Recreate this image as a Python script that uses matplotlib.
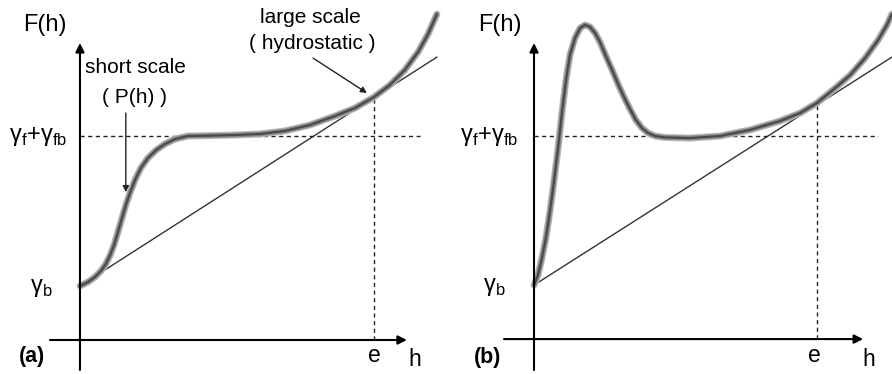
"""Schematic of the film free energy F(h) for two cases (a) and (b)."""

import matplotlib.pyplot as plt

plt.rcParams["font.family"] = ["Liberation Sans", "DejaVu Sans"]
plt.rcParams["mathtext.fontset"] = "custom"
plt.rcParams["mathtext.rm"] = "Liberation Sans"

# h in units of e, F in units of gamma_f + gamma_fb
GAMMA_B = 0.265
GAMMA_FFB = 1.0
E = 1.0

# panel (a): monotonic short-scale part
h_a = [0, 0.027, 0.051, 0.071, 0.088, 0.102, 0.116, 0.129, 0.143, 0.156,
       0.170, 0.187, 0.207, 0.231, 0.259, 0.289, 0.323, 0.367, 0.442, 0.527,
       0.612, 0.697, 0.782, 0.867, 0.935, 1.0, 1.054, 1.105, 1.150, 1.184, 1.214]
F_a = [0.265, 0.284, 0.309, 0.338, 0.373, 0.414, 0.466, 0.529, 0.598, 0.662,
       0.721, 0.784, 0.843, 0.892, 0.931, 0.961, 0.985, 1.0, 1.002, 1.005,
       1.010, 1.025, 1.054, 1.098, 1.137, 1.191, 1.250, 1.324, 1.412, 1.5, 1.598]
tangent_a_h = [0, 1.214]
tangent_a_F = [0.265, 1.387]

# panel (b): short-scale part with a maximum
h_b = [0, 0.014, 0.028, 0.042, 0.057, 0.071, 0.085, 0.099, 0.113, 0.127,
       0.145, 0.163, 0.180, 0.198, 0.216, 0.233, 0.254, 0.276, 0.297, 0.318,
       0.339, 0.360, 0.382, 0.403, 0.428, 0.463, 0.551, 0.657, 0.763, 0.869,
       0.940, 1.0, 1.064, 1.117, 1.170, 1.216, 1.247, 1.265]
F_b = [0.266, 0.315, 0.399, 0.498, 0.635, 0.783, 0.941, 1.118, 1.276, 1.399,
       1.483, 1.532, 1.547, 1.537, 1.507, 1.463, 1.394, 1.325, 1.256, 1.192,
       1.133, 1.079, 1.039, 1.015, 1.0, 0.993, 0.990, 1.0, 1.030, 1.074,
       1.113, 1.163, 1.236, 1.300, 1.384, 1.473, 1.547, 1.601]
tangent_b_h = [0, 1.265]
tangent_b_F = [0.266, 1.389]

ARROW = dict(arrowstyle="-|>", color="black", lw=1.5, mutation_scale=13,
             shrinkA=0, shrinkB=0)
THIN_ARROW = dict(arrowstyle="-|>", color="#222222", lw=1.0, mutation_scale=9,
                  shrinkA=0, shrinkB=0)


def draw_panel(ax, h, F, th, tF, xlim, ylim, axes_ext, labels):
    ax.set_xlim(*xlim)
    ax.set_ylim(*ylim)
    ax.axis("off")

    x_lo, x_hi, y_lo, y_hi = axes_ext
    ax.annotate("", xy=(x_hi, 0), xytext=(x_lo, 0), arrowprops=ARROW)
    ax.annotate("", xy=(0, y_hi), xytext=(0, y_lo), arrowprops=ARROW)

    ax.plot(th, tF, color="#333333", lw=1.0)
    ax.plot([0, labels["dash_end"]], [GAMMA_FFB, GAMMA_FFB], color="#222222",
            lw=1.0, ls=(0, (3, 2.5)))
    F_e = tF[0] + (tF[1] - tF[0]) / (th[1] - th[0]) * E
    ax.plot([E, E], [0, F_e], color="#222222", lw=1.0, ls=(0, (3, 2.5)))

    # soft thick curve
    ax.plot(h, F, color="#b8b8b8", lw=5.0, solid_capstyle="round")
    ax.plot(h, F, color="#8a8a8a", lw=3.4, solid_capstyle="round")
    ax.plot(h, F, color="#4a4a4a", lw=1.6, solid_capstyle="round")

    ax.text(labels["Fh"][0], labels["Fh"][1], "F(h)", fontsize=17,
            ha="center", va="center")
    ax.text(labels["gffb"], GAMMA_FFB, r"γ$_\mathrm{f}$+γ$_\mathrm{fb}$",
            fontsize=17, ha="right", va="center")
    ax.text(labels["gb"], tF[0] - 0.01, r"γ$_\mathrm{b}$", fontsize=17,
            ha="right", va="center")
    ax.text(labels["panel"][0], labels["panel"][1], labels["name"],
            fontsize=15.5, fontweight="bold", ha="center", va="center")
    ax.text(labels["e"][0], labels["e"][1], "e", fontsize=16.5,
            ha="center", va="center")
    ax.text(labels["h"][0], labels["h"][1], "h", fontsize=16.5,
            ha="center", va="center")


fig = plt.figure(figsize=(8.92, 3.74), dpi=100)
ax_a = fig.add_axes([0, 0, 0.5, 1])
ax_b = fig.add_axes([0.5, 0, 0.5, 1])

draw_panel(ax_a, h_a, F_a, tangent_a_h, tangent_a_F,
           (-0.272, 1.245), (-0.1667, 1.667), (-0.102, 1.112, -0.147, 1.456),
           dict(Fh=(-0.119, 1.544), gffb=-0.044, gb=-0.092,
                panel=(-0.163, -0.083), name="(a)",
                e=(1.0, -0.074), h=(1.139, -0.098), dash_end=1.157))

draw_panel(ax_b, h_b, F_b, tangent_b_h, tangent_b_F,
           (-0.311, 1.265), (-0.172, 1.670), (-0.106, 1.163, -0.153, 1.458),
           dict(Fh=(-0.120, 1.547), gffb=-0.057, gb=-0.099,
                panel=(-0.163, -0.089), name="(b)",
                e=(0.989, -0.079), h=(1.184, -0.103), dash_end=1.215))

# annotations on panel (a)
ax_a.text(0.187, 1.338, "short scale", fontsize=15, ha="center", va="center")
ax_a.text(0.187, 1.191, "( P(h) )", fontsize=15, ha="center", va="center")
ax_a.annotate("", xy=(0.156, 0.725), xytext=(0.156, 1.113),
              arrowprops=THIN_ARROW)
ax_a.text(0.782, 1.583, "large scale", fontsize=15, ha="center", va="center")
ax_a.text(0.789, 1.456, "( hydrostatic )", fontsize=15, ha="center",
          va="center")
ax_a.annotate("", xy=(0.976, 1.211), xytext=(0.793, 1.382),
              arrowprops=THIN_ARROW)

fig.savefig("out.png", dpi=100)
plt.close(fig)
